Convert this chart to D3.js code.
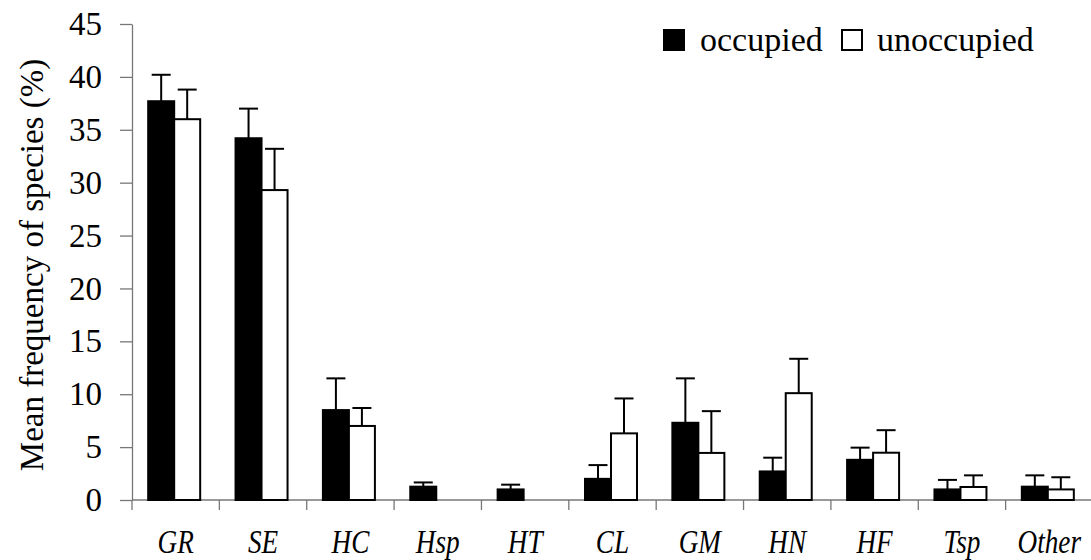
<!DOCTYPE html>
<html><head><meta charset="utf-8">
<script src="https://cdn.jsdelivr.net/npm/d3@7"></script>
</head><body style="margin:0">
<script>
const categories = ["GR","SE","HC","Hsp","HT","CL","GM","HN","HF","Tsp","Other"];
const seriesNames = ["occupied","unoccupied"];
const occupied    = [37.7, 34.2, 8.5, 1.26, 1.0, 2.0, 7.3, 2.7, 3.8, 1.0, 1.26];
const occupiedErr = [2.5, 2.8, 3.0, 0.4, 0.45, 1.3, 4.2, 1.3, 1.15, 0.9, 1.07];
const unoccupied    = [36.0, 29.3, 7.0, 0, 0, 6.3, 4.45, 10.1, 4.47, 1.23, 1.0];
const unoccupiedErr = [2.8, 3.9, 1.7, 0, 0, 3.3, 3.95, 3.25, 2.13, 1.1, 1.15];
const yTicks = [0,5,10,15,20,25,30,35,40,45];

const W = 1091, H = 560;
const svg = d3.select("body").append("svg").attr("width", W).attr("height", H)
  .attr("font-family", "Liberation Serif");

const x = d3.scaleBand().domain(categories).range([132, 1093]).padding(0);
const inner = d3.scaleBand().domain(seriesNames).range([-27.5, 24.5]).padding(0);
const y = d3.scaleLinear().domain([0, 45]).range([500, 24]);

const fills = {occupied: "#000", unoccupied: "#fff"};
const data = [];
categories.forEach((c, i) => {
  data.push({c, s: "occupied", v: occupied[i], e: occupiedErr[i]});
  data.push({c, s: "unoccupied", v: unoccupied[i], e: unoccupiedErr[i]});
});

const axisColor = "#777";
const yAxis = svg.append("g").attr("transform", "translate(132,0)")
  .call(d3.axisLeft(y).tickValues(yTicks).tickSize(12).tickPadding(18).tickSizeOuter(0))
  .attr("font-family", "Liberation Serif").attr("font-size", 33);
yAxis.select(".domain").attr("stroke", axisColor).attr("stroke-width", 1.3);
yAxis.selectAll(".tick line").attr("stroke", axisColor).attr("stroke-width", 1.3);
yAxis.selectAll(".tick text").attr("fill", "#000");

const xAxis = svg.append("g").attr("transform", "translate(0,500)");
xAxis.append("line").attr("x1", 132).attr("x2", W).attr("y1", 0).attr("y2", 0)
  .attr("stroke", axisColor).attr("stroke-width", 1.3);
xAxis.selectAll("line.tk").data(categories).enter().append("line").attr("class", "tk")
  .attr("x1", d => x(d)).attr("x2", d => x(d)).attr("y1", 0).attr("y2", 10)
  .attr("stroke", axisColor).attr("stroke-width", 1.3);
xAxis.selectAll("text.cat").data(categories).enter().append("text").attr("class", "cat")
  .attr("x", d => (x(d) + x.bandwidth() / 2) / 0.8).attr("y", 53)
  .attr("transform", "scale(0.8,1)")
  .attr("text-anchor", "middle").attr("font-size", 34).attr("font-style", "italic")
  .attr("font-family", "Liberation Serif")
  .text(d => d);

const g = svg.append("g");
g.selectAll("rect.bar").data(data).enter().append("rect").attr("class", "bar")
  .attr("x", d => x(d.c) + x.bandwidth() / 2 + inner(d.s))
  .attr("width", inner.bandwidth())
  .attr("y", d => y(d.v))
  .attr("height", d => y(0) - y(d.v))
  .attr("fill", d => fills[d.s])
  .attr("stroke", "#000").attr("stroke-width", 2);

const eb = data.filter(d => d.e > 0);
const cx = d => x(d.c) + x.bandwidth() / 2 + inner(d.s) + inner.bandwidth() / 2;
g.selectAll("line.err").data(eb).enter().append("line").attr("class", "err")
  .attr("x1", cx).attr("x2", cx).attr("y1", d => y(d.v)).attr("y2", d => y(d.v + d.e))
  .attr("stroke", "#000").attr("stroke-width", 2);
g.selectAll("line.cap").data(eb).enter().append("line").attr("class", "cap")
  .attr("x1", d => cx(d) - 9.5).attr("x2", d => cx(d) + 9.5)
  .attr("y1", d => y(d.v + d.e)).attr("y2", d => y(d.v + d.e))
  .attr("stroke", "#000").attr("stroke-width", 2);

svg.append("text").attr("x", -265).attr("y", 43).attr("transform", "rotate(-90)")
  .attr("text-anchor", "middle").attr("font-size", 33).attr("font-family", "Liberation Serif")
  .text("Mean frequency of species (%)");

const leg = svg.append("g");
const legItems = [
  {name: seriesNames[0], bx: 664, tx: 700},
  {name: seriesNames[1], bx: 842, tx: 877}
];
leg.selectAll("rect").data(legItems).enter().append("rect")
  .attr("x", d => d.bx).attr("y", 30).attr("width", 20).attr("height", 20)
  .attr("fill", d => fills[d.name]).attr("stroke", "#000").attr("stroke-width", 2);
leg.selectAll("text").data(legItems).enter().append("text")
  .attr("x", d => d.tx).attr("y", 51).attr("font-size", 34).attr("font-family", "Liberation Serif")
  .text(d => d.name);
</script>
</body></html>
